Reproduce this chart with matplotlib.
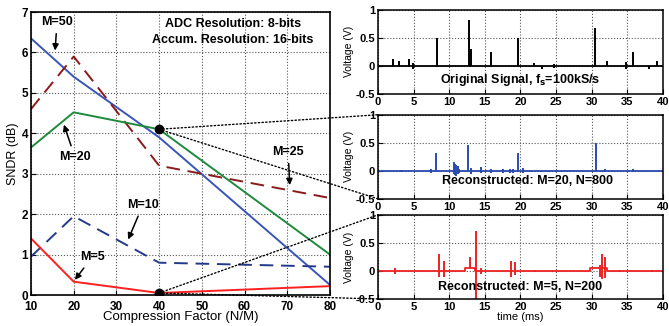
import matplotlib.pyplot as plt
from matplotlib.patches import ConnectionPatch

plt.rcParams['font.family'] = ['Liberation Sans', 'DejaVu Sans']
plt.rcParams['font.weight'] = 'bold'

# SNDR vs compression factor
cf = [10, 20, 40, 80]
sndr_m50 = [6.35, 5.4, 3.9, 0.25]
sndr_m25 = [4.6, 5.9, 3.2, 2.4]
sndr_m20 = [3.65, 4.52, 4.1, 1.0]
sndr_m10 = [0.95, 1.95, 0.8, 0.7]
sndr_m5 = [1.4, 0.33, 0.05, 0.22]

# original signal (spikes: time ms, low, high)
orig_t = [2.1, 2.9, 4.3, 4.9, 8.3, 12.8, 13.0, 15.8, 19.7, 21.9, 23.0, 24.7, 30.5, 32.1, 34.8, 35.8, 38.0, 39.2]
orig_lo = [0, 0, 0, -0.05, 0, 0, 0, 0, 0, 0, -0.05, -0.03, 0, 0, -0.05, 0, -0.05, 0]
orig_hi = [0.12, 0.09, 0.13, 0.05, 0.5, 0.81, 0.3, 0.25, 0.5, 0.05, 0, 0.03, 0.67, 0.09, 0.07, 0.25, 0, 0.08]
orig_base_t = [0, 40]
orig_base_v = [0, 0]

# reconstructed M=20, N=800
rec20_t = [3.2, 7.5, 8.2, 10.6, 10.8, 11.0, 11.2, 11.4, 12.7, 13.0, 14.5, 15.8, 17.5, 18.5, 19.0, 19.6, 20.3, 30.6, 31.8, 35.8]
rec20_lo = [-0.02, -0.03, 0, -0.05, -0.08, -0.1, -0.06, -0.03, 0, -0.06, -0.04, -0.04, -0.03, -0.03, -0.03, 0, -0.04, 0, -0.02, -0.02]
rec20_hi = [0.02, 0.04, 0.32, 0.15, 0.12, 0.1, 0.08, 0.04, 0.46, 0.05, 0.06, 0.04, 0.03, 0.03, 0.04, 0.32, 0.05, 0.5, 0.03, 0.03]
rec20_base_t = [0, 40]
rec20_base_v = [0, 0]

# reconstructed M=5, N=200
rec5_t = [2.4, 8.5, 9.3, 12.9, 13.7, 14.5, 18.6, 19.3, 22.0, 31.2, 31.5, 31.8, 34.0, 38.5]
rec5_lo = [-0.05, -0.1, -0.1, 0.05, -0.55, -0.05, -0.1, -0.08, -0.02, -0.1, -0.15, -0.12, -0.02, -0.02]
rec5_hi = [0.05, 0.3, 0.17, 0.25, 0.72, 0.05, 0.18, 0.15, 0.02, 0.1, 0.3, 0.25, 0.02, 0.02]
rec5_base_t = [0, 12.2, 12.2, 13.6, 13.6, 29.8, 29.8, 32.2, 32.2, 40]
rec5_base_v = [0, 0, 0.05, 0.05, 0, 0, 0.05, 0.05, 0, 0]

fig = plt.figure(figsize=(6.69, 3.26), dpi=100)

ax = fig.add_axes([0.0463, 0.095, 0.447, 0.868])
ax.plot(cf, sndr_m50, color='#3a55b8', lw=1.4)
ax.plot(cf, sndr_m25, color='#8b1a1a', lw=1.4, ls=(0, (7, 4)))
ax.plot(cf, sndr_m20, color='#1f8a3c', lw=1.4)
ax.plot(cf, sndr_m10, color='#24398a', lw=1.4, ls=(0, (7, 4)))
ax.plot(cf, sndr_m5, color='#ff2020', lw=1.4)
ax.plot([cf[2], cf[2]], [sndr_m20[2], sndr_m5[2]], 'o', color='k', ms=6, zorder=5)
ax.set_xlim(10, 80)
ax.set_ylim(0, 7)
ax.set_xticks(range(10, 81, 10))
ax.set_yticks(range(0, 8))
ax.grid(True, ls=':', color='#555555', lw=0.8)
ax.tick_params(direction='in', labelsize=8.5, pad=2)
ax.tick_params(axis='x', pad=4)
for s in ax.spines.values():
    s.set_linewidth(1.2)
ax.set_xlabel('Compression Factor (N/M)', fontsize=9.5, labelpad=-1)
ax.set_ylabel('SNDR (dB)', fontsize=9, labelpad=2)

ap = dict(arrowstyle='-|>', color='k', lw=1.1, mutation_scale=9)
ann = dict(fontsize=9, fontweight='bold', ha='center', va='center')
ax.annotate('M=50', xy=(15.6, 5.98), xytext=(16.1, 6.75), arrowprops=ap, **ann)
ax.annotate('M=20', xy=(17.5, 4.28), xytext=(20.3, 3.41), arrowprops=ap, **ann)
ax.annotate('M=25', xy=(70.6, 2.65), xytext=(70.2, 3.54), arrowprops=ap, **ann)
ax.annotate('M=10', xy=(32.5, 1.31), xytext=(36.2, 2.23), arrowprops=ap, **ann)
ax.annotate('M=5', xy=(19.9, 0.32), xytext=(24.3, 0.94), arrowprops=ap, **ann)
ax.text(57.3, 6.7, 'ADC Resolution: 8-bits', **ann)
ax.text(57.3, 6.3, 'Accum. Resolution: 16-bits', **ann)

panels = [
    (0.712, orig_t, orig_lo, orig_hi, orig_base_t, orig_base_v, 'k',
     'Original Signal, f$_\\mathbf{s}$=100kS/s', (20, -0.25)),
    (0.390, rec20_t, rec20_lo, rec20_hi, rec20_base_t, rec20_base_v, '#2a4bb0',
     'Reconstructed: M=20, N=800', (21, -0.19)),
    (0.083, rec5_t, rec5_lo, rec5_hi, rec5_base_t, rec5_base_v, '#ee2222',
     'Reconstructed: M=5, N=200', (19.9, -0.29)),
]
raxes = []
for bottom, t, lo, hi, bt, bv, c, label, pos in panels:
    a = fig.add_axes([0.565, bottom, 0.426, 0.258])
    a.plot(bt, bv, color=c, lw=1.3)
    a.vlines(t, lo, hi, color=c, lw=1.4)
    a.set_xlim(0, 40)
    a.set_ylim(-0.5, 1)
    a.set_xticks(range(0, 41, 5))
    a.set_yticks([-0.5, 0, 0.5, 1])
    a.set_yticklabels(['-0.5', '0', '0.5', '1'])
    a.grid(True, ls=':', color='#555555', lw=0.8)
    a.tick_params(direction='in', labelsize=8, pad=2)
    for s in a.spines.values():
        s.set_linewidth(1.1)
    a.set_ylabel('Voltage (V)', fontsize=7.5, labelpad=1)
    a.text(pos[0], pos[1], label, fontsize=9, fontweight='bold', ha='center', va='center')
    raxes.append(a)
raxes[-1].set_xlabel('time (ms)', fontsize=8, labelpad=0)

# zoom connectors
links = [((cf[2], sndr_m20[2]), raxes[1], (0, 1)),
         ((cf[2], sndr_m20[2]), raxes[1], (0, 0)),
         ((cf[2], sndr_m5[2]), raxes[2], (0, 1)),
         ((cf[2], sndr_m5[2]), raxes[2], (0, 0))]
for xy, a, corner in links:
    con = ConnectionPatch(xyA=xy, coordsA='data', axesA=ax,
                          xyB=corner, coordsB='axes fraction', axesB=a,
                          color='k', lw=1.0, ls=':')
    fig.add_artist(con)

fig.savefig('out.png', dpi=100)
